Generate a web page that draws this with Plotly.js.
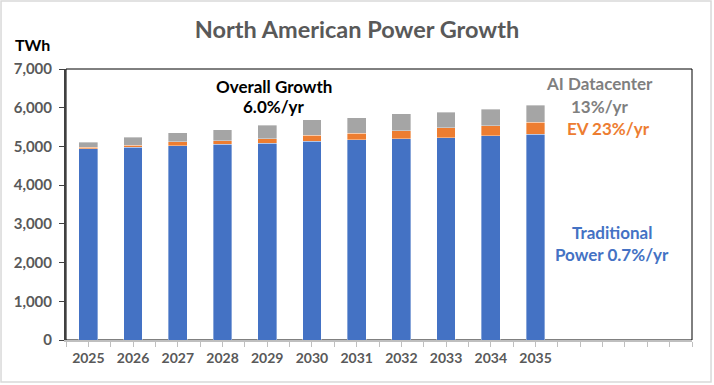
<!DOCTYPE html>
<html>
<head>
<meta charset="utf-8">
<script src="https://cdn.plot.ly/plotly-3.0.1.min.js"></script>
<style>html,body{margin:0;padding:0;background:#fff;}#chart{width:714px;height:385px;}</style>
</head>
<body>
<div id="chart"></div>
<script>
// Data (TWh)
const years = [2025, 2026, 2027, 2028, 2029, 2030, 2031, 2032, 2033, 2034, 2035];
const yearLabels = ["2025", "2026", "2027", "2028", "2029", "2030", "2031", "2032", "2033", "2034", "2035"];
const traditionalPower = [4940, 4985, 5020, 5055, 5080, 5140, 5175, 5200, 5225, 5275, 5315];
const evPower = [40, 45, 95, 95, 120, 145, 160, 200, 255, 260, 310];
const aiDatacenter = [130, 205, 240, 285, 345, 405, 405, 440, 405, 430, 440];
const yTickVals = [0, 1000, 2000, 3000, 4000, 5000, 6000, 7000];

const FONT = "Lato, 'Noto Sans', sans-serif";
const barLine = {color: 'rgba(255,255,255,0.6)', width: 0.6};

const traces = [
  {type: 'bar', name: 'Traditional', x: years, y: traditionalPower, width: 0.42,
   marker: {color: '#4472C4', line: barLine}},
  {type: 'bar', name: 'EV', x: years, y: evPower, width: 0.42,
   marker: {color: '#ED7D31', line: barLine}},
  {type: 'bar', name: 'AI Datacenter', x: years, y: aiDatacenter, width: 0.42,
   marker: {color: '#A5A5A5', line: barLine}}
];

function ann(text, x, y, color, size) {
  return {text: text, xref: 'paper', yref: 'paper', x: x, y: y, xanchor: 'center', yanchor: 'middle',
          showarrow: false, font: {family: FONT, size: size || 17, color: color}};
}

const layout = {
  width: 714, height: 385,
  margin: {l: 66, r: 22, t: 69, b: 45},
  barmode: 'stack',
  showlegend: false,
  paper_bgcolor: '#ffffff', plot_bgcolor: '#ffffff',
  font: {family: FONT},
  title: {text: '<b>North American Power Growth</b>', x: 0.5, xref: 'container', xanchor: 'center',
          y: 1 - 30/385, yref: 'container', yanchor: 'middle',
          font: {family: FONT, size: 23.5, color: '#595959'}},
  xaxis: {
    type: 'linear', range: [2024.5, 2038.5], fixedrange: true,
    tickvals: years, ticktext: yearLabels.map(s => '<b>' + s + '</b>'),
    tickfont: {family: FONT, size: 14, color: '#595959'},
    ticks: 'outside', ticklen: 5, tickcolor: '#BFBFBF', tickwidth: 1,
    minor: {dtick: 0.5, tick0: 2024.5, ticks: 'outside', ticklen: 5, tickcolor: '#BFBFBF', tickwidth: 1, showgrid: false},
    showline: true, linecolor: '#BFBFBF', linewidth: 1.5,
    showgrid: false, zeroline: false
  },
  yaxis: {
    range: [0, 7000], fixedrange: true,
    tickvals: yTickVals, ticktext: yTickVals.map(v => '<b>' + v.toLocaleString('en-US') + '</b>'),
    tickfont: {family: FONT, size: 15, color: '#595959'},
    ticks: 'outside', ticklen: 5, tickcolor: '#404040', tickwidth: 1,
    ticklabelstandoff: 4,
    showline: true, linecolor: '#404040', linewidth: 2,
    showgrid: false, zeroline: false
  },
  shapes: [
    {type: 'rect', xref: 'paper', yref: 'paper', x0: 0, x1: 1, y0: 0, y1: 1,
     line: {color: '#000000', width: 1}, layer: 'below'},
    {type: 'rect', xref: 'paper', yref: 'paper', x0: -0.1038, x1: 1.0304, y0: -0.155, y1: 1.251,
     line: {color: '#D9D9D9', width: 1.5}, layer: 'below'}
  ],
  annotations: [
    ann('<b>TWh</b>', -0.054, 1.089, '#000000', 16),
    ann('<b>Overall Growth</b>', 0.332, 0.937, '#000000'),
    ann('<b>6.0%/yr</b>', 0.332, 0.860, '#000000'),
    ann('<b>AI Datacenter</b>', 0.853, 0.948, '#7F7F7F'),
    ann('<b>13%/yr</b>', 0.853, 0.863, '#7F7F7F'),
    ann('<b>EV 23%/yr</b>', 0.867, 0.782, '#ED7D31'),
    ann('<b>Traditional</b>', 0.872, 0.395, '#4472C4'),
    ann('<b>Power 0.7%/yr</b>', 0.872, 0.314, '#4472C4')
  ]
};

Plotly.newPlot('chart', traces, layout, {displayModeBar: false, staticPlot: true});
</script>
</body>
</html>
